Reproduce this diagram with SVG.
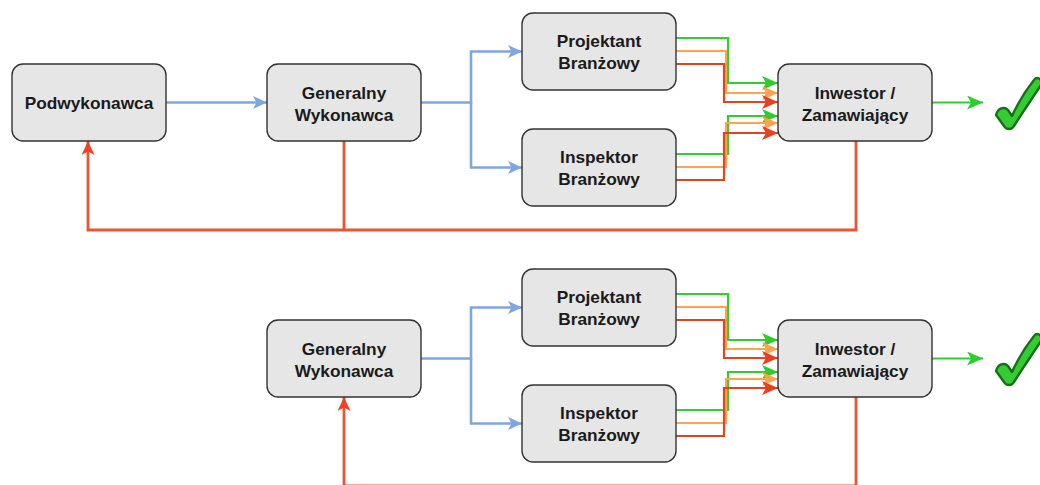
<svg xmlns="http://www.w3.org/2000/svg" width="1040" height="485" viewBox="0 0 1040 485">
<style>
.box{fill:#e6e6e6;stroke:#333;stroke-width:1.4}
.t{font-family:"Liberation Sans",Arial,sans-serif;font-weight:bold;font-size:17.3px;fill:#1a1a1a;text-anchor:middle}
.c{fill:none;stroke-linejoin:miter}
.blue{stroke:#7ea6e0;stroke-width:2.6}
.fb{stroke:#ea5430;stroke-width:2.8}
.g{stroke:#33cc33;stroke-width:2.2}
.o{stroke:#ffa252;stroke-width:2.2}
.r{stroke:#e2441f;stroke-width:2.2}
.chk{fill:#33cc33;stroke:#1a6e1a;stroke-width:2.4;stroke-linejoin:round}
</style>
<defs>
<marker id="ab" markerUnits="userSpaceOnUse" markerWidth="15" markerHeight="13" refX="14" refY="6.5" orient="auto"><path d="M0,0 L14,6.5 L0,13 L3.5,6.5 Z" fill="#7ea6e0"/></marker>
<marker id="af" markerUnits="userSpaceOnUse" markerWidth="15" markerHeight="13" refX="14" refY="6.5" orient="auto"><path d="M0,0 L14,6.5 L0,13 L3.5,6.5 Z" fill="#ea4420"/></marker>
<marker id="ag" markerUnits="userSpaceOnUse" markerWidth="17" markerHeight="14" refX="16" refY="7" orient="auto"><path d="M0,0 L16,7 L0,14 L4,7 Z" fill="#2ecc2e"/></marker>
<marker id="ao" markerUnits="userSpaceOnUse" markerWidth="17" markerHeight="14" refX="16" refY="7" orient="auto"><path d="M0,0 L16,7 L0,14 L4,7 Z" fill="#ffa252"/></marker>
<marker id="ar" markerUnits="userSpaceOnUse" markerWidth="17" markerHeight="14" refX="16" refY="7" orient="auto"><path d="M0,0 L16,7 L0,14 L4,7 Z" fill="#ea3f1a"/></marker>
</defs>

<g id="connectors">
<path class="c blue" d="M166,102.5 H267" marker-end="url(#ab)"/>
<path class="c blue" d="M421,102.5 H471 V51.5 H522" marker-end="url(#ab)"/>
<path class="c blue" d="M471,102.5 V167.5 H522" marker-end="url(#ab)"/>
<path class="c fb" d="M856,141 V230 H88 V141" marker-end="url(#af)"/>
<path class="c fb" d="M344,141 V230"/>
<path class="c g" d="M676,38 H728 V83 H778" marker-end="url(#ag)"/>
<path class="c o" d="M676,51 H726 V93 H778" marker-end="url(#ao)"/>
<path class="c r" d="M676,64 H724 V102 H778" marker-end="url(#ar)"/>
<path class="c g" d="M676,154 H728 V116 H778" marker-end="url(#ag)"/>
<path class="c o" d="M676,167 H726 V123 H778" marker-end="url(#ao)"/>
<path class="c r" d="M676,180 H724 V133 H778" marker-end="url(#ar)"/>
<path class="c g" d="M932,102.5 H983" stroke-width="2.6" marker-end="url(#ag)"/>
<path class="c blue" d="M421,358.5 H471 V307.5 H522" marker-end="url(#ab)"/>
<path class="c blue" d="M471,358.5 V423.5 H522" marker-end="url(#ab)"/>
<path class="c fb" d="M856,397 V485.8 H344 V397" marker-end="url(#af)"/>
<path class="c g" d="M676,294 H728 V340 H778" marker-end="url(#ag)"/>
<path class="c o" d="M676,307 H726 V349 H778" marker-end="url(#ao)"/>
<path class="c r" d="M676,320 H724 V358 H778" marker-end="url(#ar)"/>
<path class="c g" d="M676,410 H728 V372 H778" marker-end="url(#ag)"/>
<path class="c o" d="M676,423 H726 V379 H778" marker-end="url(#ao)"/>
<path class="c r" d="M676,436 H724 V388 H778" marker-end="url(#ar)"/>
<path class="c g" d="M932,358.5 H983" stroke-width="2.6" marker-end="url(#ag)"/>
</g>

<g id="podwykonawca"><rect class="box" x="12" y="64" width="154" height="77" rx="11"/><text class="t" x="89" y="109">Podwykonawca</text></g>
<g id="generalny1"><rect class="box" x="267" y="64" width="154" height="77" rx="11"/><text class="t" x="344" y="98.5">Generalny</text><text class="t" x="344" y="120.5">Wykonawca</text></g>
<g id="projektant1"><rect class="box" x="522" y="13" width="154" height="77" rx="11"/><text class="t" x="599" y="47">Projektant</text><text class="t" x="599" y="69">Branżowy</text></g>
<g id="inspektor1"><rect class="box" x="522" y="129" width="154" height="77" rx="11"/><text class="t" x="599" y="163">Inspektor</text><text class="t" x="599" y="185">Branżowy</text></g>
<g id="inwestor1"><rect class="box" x="778" y="64" width="154" height="77" rx="11"/><text class="t" x="855" y="98.5">Inwestor /</text><text class="t" x="855" y="120.5">Zamawiający</text></g>
<g id="check1"><path class="chk" d="M996,115 C998,108 1004,106 1008,110 L1012,116 C1018,103 1026,90 1034,80 C1037,76 1043,79 1041,85 C1032,99 1022,113 1014,126 C1012,130 1006,130 1004,126 Z"/></g>

<g id="generalny2"><rect class="box" x="267" y="320" width="154" height="77" rx="11"/><text class="t" x="344" y="354.5">Generalny</text><text class="t" x="344" y="376.5">Wykonawca</text></g>
<g id="projektant2"><rect class="box" x="522" y="269" width="154" height="77" rx="11"/><text class="t" x="599" y="303">Projektant</text><text class="t" x="599" y="325">Branżowy</text></g>
<g id="inspektor2"><rect class="box" x="522" y="385" width="154" height="77" rx="11"/><text class="t" x="599" y="419">Inspektor</text><text class="t" x="599" y="441">Branżowy</text></g>
<g id="inwestor2"><rect class="box" x="778" y="320" width="154" height="77" rx="11"/><text class="t" x="855" y="354.5">Inwestor /</text><text class="t" x="855" y="376.5">Zamawiający</text></g>
<g id="check2"><path class="chk" d="M996,371 C998,364 1004,362 1008,366 L1012,372 C1018,359 1026,346 1034,336 C1037,332 1043,335 1041,341 C1032,355 1022,369 1014,382 C1012,386 1006,386 1004,382 Z"/></g>
</svg>
